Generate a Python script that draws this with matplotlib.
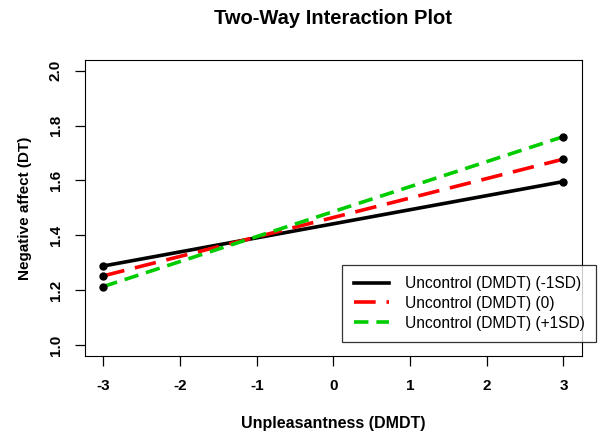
import numpy as np
import matplotlib.pyplot as plt

plt.rcParams['font.family'] = ['Liberation Sans', 'DejaVu Sans']
plt.rcParams['axes.unicode_minus'] = False

x_vals = [-3, 3]
low_sd = [1.288, 1.596]
mean_0 = [1.252, 1.678]
high_sd = [1.213, 1.760]
labels = ['Uncontrol (DMDT) (-1SD)', 'Uncontrol (DMDT) (0)', 'Uncontrol (DMDT) (+1SD)']
colors = ['black', 'red', '#00cc00']
dashes = [None, (6, 3), (4, 2.2)]

fig = plt.figure(figsize=(5.98, 4.34), dpi=100)
ax = fig.add_axes([0.142, 0.180, 0.831, 0.682])

for ys, lab, col, ds in zip([low_sd, mean_0, high_sd], labels, colors, dashes):
    line, = ax.plot(x_vals, ys, color=col, lw=2.6, label=lab)
    if ds is not None:
        line.set_dashes(ds)
    ax.plot(x_vals, ys, 'o', color='black', ms=5)

ax.set_xlim(-3.24, 3.24)
ax.set_ylim(0.96, 2.04)
ax.set_xticks(np.arange(-3, 4, 1))
ax.set_xticklabels([str(v) for v in range(-3, 4)], fontweight='bold')
ax.set_yticks([1.0, 1.2, 1.4, 1.6, 1.8, 2.0])
ax.set_yticklabels(['1.0', '1.2', '1.4', '1.6', '1.8', '2.0'], rotation=90, va='center',
                   fontweight='bold')
ax.tick_params(labelsize=11, length=7, width=0.9)
ax.tick_params(axis='x', pad=10)
ax.tick_params(axis='y', pad=9)

ax.set_title('Two-Way Interaction Plot', fontsize=14.5, fontweight='bold', pad=26)
ax.set_xlabel('Unpleasantness (DMDT)', fontsize=11.5, fontweight='bold', labelpad=16)
ax.set_ylabel('Negative affect (DT)', fontsize=11, fontweight='bold', labelpad=12)

leg = ax.legend(loc='lower right', bbox_to_anchor=(1.045, 0.02), fontsize=11.2,
                frameon=True, fancybox=False, edgecolor='black', handlelength=2.3,
                borderpad=0.75, labelspacing=0.3, handletextpad=1.0)
leg.get_frame().set_linewidth(0.9)

fig.savefig('out.png', dpi=100)
